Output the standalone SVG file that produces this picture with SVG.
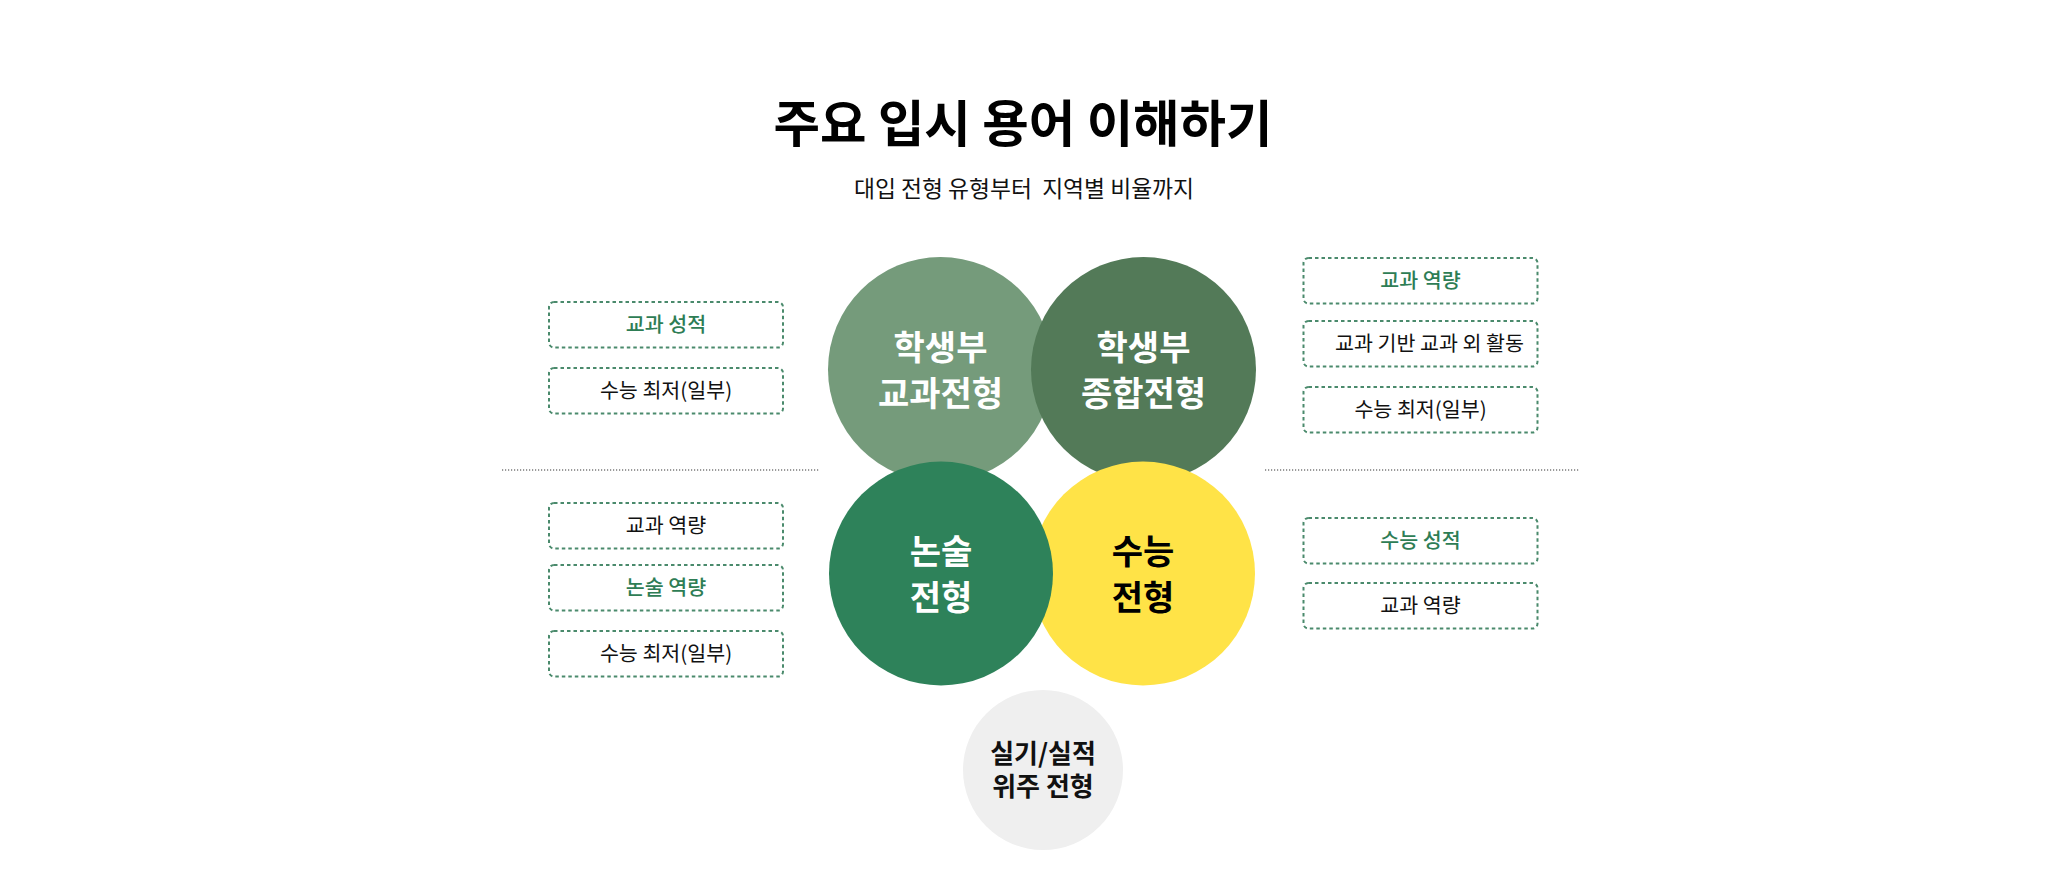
<svg xmlns="http://www.w3.org/2000/svg" width="2048" height="890" viewBox="0 0 2048 890">
<style>
  text { font-family: "Noto Sans CJK KR", "Noto Sans", sans-serif; }
  .title { font-size: 50.5px; font-weight: 700; fill: #000; text-anchor: middle; }
  .sub { font-size: 22.8px; font-weight: 400; fill: #111; text-anchor: middle; white-space: pre; }
  .box { fill: #fff; stroke: #4A8A6C; stroke-width: 2; stroke-dasharray: 3.5 3; }
  .bt { font-size: 20.6px; font-weight: 400; fill: #111; text-anchor: middle; }
  .bt.g { fill: #2E7D55; font-weight: 500; }
  .ct { font-size: 34px; font-weight: 700; text-anchor: middle; }
  .ct5 { font-size: 26px; font-weight: 700; text-anchor: middle; fill: #111; }
  .w { fill: #fff; }
  .k { fill: #000; }
  .div { stroke: #7a7a7a; stroke-width: 1.5; stroke-dasharray: 1.2 1.8; fill: none; }
</style>
<rect width="2048" height="890" fill="#fff"/>
<g id="header">
  <text class="title" x="1023" y="142">주요 입시 용어 이해하기</text>
  <text class="sub" x="1024" y="197">대입 전형 유형부터  지역별 비율까지</text>
</g>
<g id="connectors">
  <line class="div" x1="502" y1="470" x2="820" y2="470"/>
  <line class="div" x1="1265" y1="470" x2="1580" y2="470"/>
</g>
<g id="circle-gyogwa">
  <circle cx="940.5" cy="369.5" r="112.5" fill="#759B7B"/>
  <text class="ct w" x="940.5" y="359.5">학생부</text>
  <text class="ct w" x="940.5" y="405.5">교과전형</text>
</g>
<g id="circle-jonghap">
  <circle cx="1143.5" cy="369.5" r="112.5" fill="#537A58"/>
  <text class="ct w" x="1143.5" y="359.5">학생부</text>
  <text class="ct w" x="1143.5" y="405.5">종합전형</text>
</g>
<g id="circle-suneung">
  <circle cx="1143" cy="573.5" r="112" fill="#FFE347"/>
  <text class="ct k" x="1143" y="563.5">수능</text>
  <text class="ct k" x="1143" y="609.5">전형</text>
</g>
<g id="circle-nonsul">
  <circle cx="941" cy="573.5" r="112" fill="#2E825A"/>
  <text class="ct w" x="941" y="563.5">논술</text>
  <text class="ct w" x="941" y="609.5">전형</text>
</g>
<g id="circle-silgi">
  <circle cx="1043" cy="770" r="80" fill="#EFEFEF"/>
  <text class="ct5" x="1043" y="763">실기/실적</text>
  <text class="ct5" x="1043" y="796">위주 전형</text>
</g>
<g id="box-l1">
  <rect class="box" x="549" y="302" width="234" height="45.5" rx="5"/>
  <text class="bt g" x="666" y="332">교과 성적</text>
</g>
<g id="box-l2">
  <rect class="box" x="549" y="368" width="234" height="45.5" rx="5"/>
  <text class="bt" x="666" y="398">수능 최저(일부)</text>
</g>
<g id="box-l3">
  <rect class="box" x="549" y="503" width="234" height="45.5" rx="5"/>
  <text class="bt" x="666" y="533">교과 역량</text>
</g>
<g id="box-l4">
  <rect class="box" x="549" y="565" width="234" height="45.5" rx="5"/>
  <text class="bt g" x="666" y="595">논술 역량</text>
</g>
<g id="box-l5">
  <rect class="box" x="549" y="631" width="234" height="45.5" rx="5"/>
  <text class="bt" x="666" y="661">수능 최저(일부)</text>
</g>
<g id="box-r1">
  <rect class="box" x="1303.5" y="258" width="234" height="45.5" rx="5"/>
  <text class="bt g" x="1420.5" y="288">교과 역량</text>
</g>
<g id="box-r2">
  <rect class="box" x="1303.5" y="321" width="234" height="45.5" rx="5"/>
  <text class="bt" x="1429.5" y="351">교과 기반 교과 외 활동</text>
</g>
<g id="box-r3">
  <rect class="box" x="1303.5" y="387" width="234" height="45.5" rx="5"/>
  <text class="bt" x="1420.5" y="417">수능 최저(일부)</text>
</g>
<g id="box-r4">
  <rect class="box" x="1303.5" y="518" width="234" height="45.5" rx="5"/>
  <text class="bt g" x="1420.5" y="548">수능 성적</text>
</g>
<g id="box-r5">
  <rect class="box" x="1303.5" y="583" width="234" height="45.5" rx="5"/>
  <text class="bt" x="1420.5" y="613">교과 역량</text>
</g>
</svg>
